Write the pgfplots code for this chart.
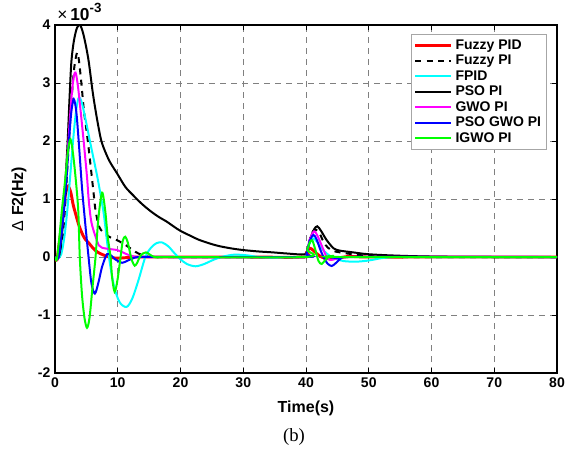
\documentclass[border=0pt]{standalone}
\usepackage{fontspec}
\setmainfont{Liberation Sans}
\newfontfamily\seriffont{Liberation Serif}
\usepackage{pgfplots}
\pgfplotsset{compat=1.18}
\usetikzlibrary{calc}
\definecolor{mred}{RGB}{255,0,0}
\definecolor{mcyan}{RGB}{0,255,255}
\definecolor{mmag}{RGB}{255,0,255}
\definecolor{mblue}{RGB}{0,0,255}
\definecolor{mgreen}{RGB}{0,255,0}
\begin{document}
\begin{tikzpicture}
\begin{axis}[
  name=ax,
  scale only axis, width=376.5pt, height=261pt,
  xmin=0, xmax=80, ymin=-2, ymax=4,
  xtick={0,10,...,80}, ytick={-2,-1,0,1,2,3,4},
  axis line style={line width=1.4pt},
  tick align=inside, tick pos=both, major tick length=4pt,
  every tick/.style={black, line width=0.6pt},
  grid=major,
  major grid style={gray, line width=0.7pt, dash pattern=on 4.5pt off 3.75pt},
  /pgf/number format/assume math mode=true,
  ticklabel style={font=\fontsize{10.5}{12}\selectfont\bfseries},
  xlabel={Time(s)},
  ylabel={{\mdseries Δ} F2(Hz)},
  xlabel style={at={(axis description cs:0.5,-0.1006)}, anchor=center, font=\fontsize{12}{14}\selectfont\bfseries},
  ylabel style={at={(axis description cs:-0.0717,0.5)}, anchor=center, font=\fontsize{12}{14}\selectfont\bfseries},
  legend style={at={(rel axis cs:0.98,0.974)}, anchor=north east, draw=gray!70, line width=0.75pt, fill=white,
    font=\fontsize{10.5}{12}\selectfont\bfseries, inner sep=2pt, row sep=-1.2pt, cells={anchor=west}},
  legend image code/.code={\draw[#1] (0cm,0cm) -- (0.95cm,0cm);},
  every axis plot/.append style={smooth, no markers},
]
% Fuzzy PID
\addplot[mred, line width=2.2pt] coordinates {
(0,0) (0.3,-0.05) (0.6,0.18) (0.9,0.42) (1.15,0.64) (1.5,0.95) (1.8,1.15) (2.1,1.22) (2.5,1.12) (2.9,0.9) (3.27,0.75) (3.8,0.55) (4.3,0.41) (4.8,0.31) (5.4,0.24) (6,0.16) (6.7,0.09) (7.4,0.05) (8.05,0.02) (9,-0.01) (10.1,-0.02) (11.5,-0.01) (13,0) (20,0) (30,0) (39.8,0) (40.1,0.08) (40.6,0.15) (41.1,0.12) (41.7,0.06) (42.3,0.01) (42.9,-0.02) (44,-0.03) (45.5,-0.01) (47,0.01) (50,0) (60,0) (70,0) (80,0)};
\addlegendentry{Fuzzy PID}
% Fuzzy PI
\addplot[black, line width=1.5pt, dash pattern=on 4.5pt off 4pt] coordinates {
(0,0) (0.5,-0.02) (1,0.15) (1.5,0.7) (2,1.6) (2.5,2.5) (3,3.2) (3.5,3.52) (3.8,3.4) (4.2,3.0) (4.6,2.53) (5,2.2) (5.4,1.84) (5.8,1.45) (6.2,1.05) (6.46,0.8) (6.9,0.57) (7.3,0.47) (8,0.4) (8.6,0.35) (9.9,0.29) (11.2,0.21) (12,0.15) (12.8,0.09) (13.7,0.04) (14.6,0.01) (16,0) (25,0) (39.8,0) (40.1,0.05) (40.6,0.3) (41.1,0.44) (41.6,0.47) (42.2,0.4) (42.8,0.26) (43.5,0.16) (44.5,0.1) (46,0.07) (48,0.04) (51,0.01) (55,0) (80,0)};
\addlegendentry{Fuzzy PI}
% FPID
\addplot[mcyan, line width=1.5pt] coordinates {
(0,0) (0.5,-0.02) (1,0.05) (1.5,0.35) (2,0.85) (2.5,1.5) (3,2.15) (3.4,2.55) (3.8,2.75) (4.3,2.65) (5.1,2.25) (5.6,1.98) (6.2,1.67) (6.8,1.35) (7.3,1.05) (7.8,0.72) (8.6,0) (9.4,-0.5) (10.3,-0.78) (11.4,-0.86) (12.3,-0.72) (13.3,-0.4) (14.4,0) (15.3,0.16) (16.2,0.24) (17.1,0.25) (18.1,0.18) (19,0.07) (19.9,-0.03) (21,-0.12) (22.4,-0.16) (23.8,-0.12) (25,-0.06) (26.5,0) (28.5,0.04) (30.5,0.03) (32.5,0) (35,-0.01) (37,0) (39.8,0) (40.1,0.06) (40.5,0.22) (41.1,0.32) (41.7,0.27) (42.5,0.15) (43.3,0.06) (44.5,-0.02) (46,-0.07) (48,-0.08) (50,-0.06) (52,-0.02) (54,0) (57,0.01) (60,0) (80,0)};
\addlegendentry{FPID}
% PSO PI
\addplot[black, line width=1.5pt] coordinates {
(0,0) (0.5,-0.02) (0.8,0.1) (1.2,0.5) (1.6,1.2) (2,1.95) (2.3,2.7) (2.6,3.35) (3,3.72) (3.5,3.95) (4,4.0) (4.5,3.85) (5,3.6) (5.4,3.35) (6,2.85) (6.46,2.53) (7,2.2) (7.5,1.96) (8.6,1.67) (9.9,1.44) (11.2,1.21) (12.4,1.07) (13.7,0.93) (15,0.81) (16.4,0.7) (17.8,0.61) (19,0.52) (20,0.45) (21.5,0.37) (23.1,0.29) (25.7,0.2) (28,0.15) (30,0.12) (32.5,0.095) (34.7,0.08) (37,0.06) (39.8,0.045) (40.2,0.12) (40.8,0.35) (41.3,0.48) (41.8,0.53) (42.4,0.45) (43.3,0.29) (44.4,0.15) (45.4,0.11) (47.5,0.08) (49.7,0.05) (53,0.03) (57,0.015) (62,0.005) (70,0) (80,0)};
\addlegendentry{PSO PI}
% GWO PI
\addplot[mmag, line width=1.5pt] coordinates {
(0,0) (0.5,-0.02) (1,0.4) (1.4,0.81) (1.94,1.67) (2.47,2.53) (2.9,3.05) (3.27,3.18) (3.65,2.95) (4.07,2.53) (4.6,1.96) (5.1,1.38) (5.4,0.95) (5.8,0.6) (6.46,0.35) (7,0.2) (7.5,0.16) (8.5,0.14) (9.9,0.12) (10.6,0.09) (11.4,0.05) (12.2,0.02) (13.5,0) (20,0) (39.8,0) (40.1,0.05) (40.6,0.3) (41.1,0.42) (41.4,0.44) (41.9,0.35) (42.8,0.12) (43.3,0.0) (43.8,-0.05) (44.5,-0.04) (45.5,-0.01) (47,0) (80,0)};
\addlegendentry{GWO PI}
% PSO GWO PI
\addplot[mblue, line width=1.5pt] coordinates {
(0,0) (0.5,-0.02) (1,0.35) (1.67,1.1) (2.2,1.96) (2.6,2.5) (3,2.72) (3.4,2.5) (3.8,1.96) (4.3,1.2) (4.8,0.6) (5.3,0.05) (5.8,-0.45) (6.35,-0.63) (6.9,-0.45) (7.5,-0.17) (8.3,0.05) (9.0,0.02) (9.6,-0.04) (10.7,-0.1) (11.6,-0.06) (12.3,-0.03) (13.5,0) (20,0) (39.8,0) (40.1,0.05) (40.6,0.28) (41.2,0.38) (41.7,0.3) (42.3,0.12) (42.8,0) (43.4,-0.11) (44.1,-0.155) (44.8,-0.1) (45.5,-0.03) (46.5,0) (80,0)};
\addlegendentry{PSO GWO PI}
% IGWO PI
\addplot[mgreen, line width=1.5pt] coordinates {
(0,0) (0.3,-0.04) (0.7,0.35) (1.1,0.81) (1.67,1.38) (2.1,1.85) (2.47,2.03) (2.85,1.8) (3.27,1.38) (3.7,0.81) (3.95,0) (4.3,-0.65) (4.7,-1.05) (5.1,-1.22) (5.5,-1.05) (5.95,-0.55) (6.46,0) (6.9,0.65) (7.5,1.11) (8.0,0.8) (8.4,0.35) (8.85,0) (9.1,-0.35) (9.5,-0.6) (9.95,-0.4) (10.45,0) (10.8,0.28) (11.2,0.35) (11.6,0.25) (12.0,0.05) (12.3,-0.07) (12.7,-0.15) (13.1,-0.1) (13.5,0) (14,0.06) (14.5,0.08) (15,0.05) (15.6,0.01) (16.5,-0.01) (18,0) (39.8,0) (40.2,0.12) (40.6,0.25) (41,0.29) (41.5,0.12) (42,-0.07) (42.5,-0.12) (43,-0.06) (43.6,0) (44.5,0.02) (45.5,0) (80,0)};
\addlegendentry{IGWO PI}
\end{axis}
\node[anchor=base west, inner sep=0pt, font=\fontsize{13}{15}\selectfont] at ($(ax.north west)+(1.5pt,3.5pt)$) {×\,\textbf{10}\raisebox{0.45em}{\fontsize{10}{12}\selectfont\bfseries -3}};
\node[font=\seriffont\fontsize{14}{16}\selectfont] at ($(ax.south west)!0.476!(ax.south east)+(0,-48pt)$) {(b)};
\pgfresetboundingbox
\path[use as bounding box] ($(ax.south west)+(-41.25pt,-57.75pt)$) rectangle ($(ax.north east)+(6.75pt,18.75pt)$);
\end{tikzpicture}
\end{document}
